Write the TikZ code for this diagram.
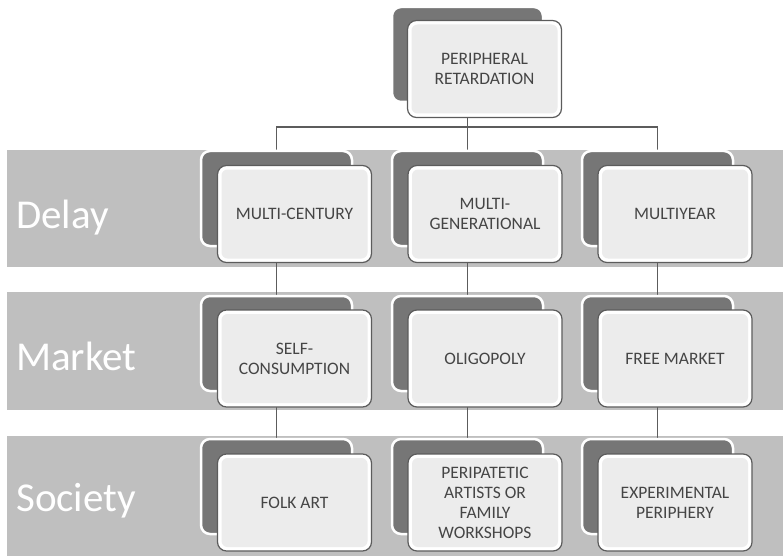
\documentclass[tikz,border=0pt]{standalone}
\usepackage{fontspec}
\setmainfont{Carlito}
\pgfdeclarelayer{bands}
\pgfdeclarelayer{links}
\pgfsetlayers{bands,links,main}
\definecolor{bandgray}{HTML}{BFBFBF}
\definecolor{cardgray}{HTML}{767676}
\definecolor{cardfill}{HTML}{ECECEC}
\definecolor{edgegray}{HTML}{5C5C5C}
\definecolor{textgray}{HTML}{454545}

\begin{document}
\begin{tikzpicture}[x = 1pt, y = -1pt]
    \tikzstyle{backcard} = [draw = white, line width = 2.5pt, fill = cardgray, rounded corners = 9pt, minimum width = 151pt, minimum height = 95pt, inner sep = 0pt];
    \tikzstyle{frontcard} = [draw = edgegray, line width = 1.2pt, fill = white, rounded corners = 9pt, minimum width = 154pt, minimum height = 97pt, inner sep = 0pt, align = center, text = textgray, font = \fontsize{17.5}{20}\selectfont, path picture = {\fill[cardfill, rounded corners = 6pt] ([shift = {(4pt,4pt)}]path picture bounding box.south west) rectangle ([shift = {(-4pt,-4pt)}]path picture bounding box.north east);}];
    \tikzstyle{rowlabel} = [anchor = base west, inner sep = 0pt, text = white, font = \fontsize{41}{48}\selectfont];
    \tikzstyle{link} = [draw = edgegray, line width = 1.3pt];
    \useasboundingbox (0,0) rectangle (783,556);
    % bands
    \begin{pgfonlayer}{bands}
        \fill[bandgray] (7,150) rectangle (783,267);
        \fill[bandgray] (7,292) rectangle (783,410);
        \fill[bandgray] (7,436) rectangle (783,556);
    \end{pgfonlayer}
    \node[rowlabel] (delay) at (16,228) {Delay};
    \node[rowlabel] (market) at (16,370) {Market};
    \node[rowlabel] (society) at (16,511) {Society};
    % top
    \node[backcard] (topbk) at (467.5,54.5) {};
    \node[frontcard] (top) at (484.5,69) {PERIPHERAL\\RETARDATION};
    % delay
    \node[backcard] (d1bk) at (276.5,198.5) {};
    \node[frontcard] (d1) at (294.5,214) {MULTI-CENTURY};
    \node[backcard] (d2bk) at (467.5,198.5) {};
    \node[frontcard] (d2) at (485,214) {MULTI-\\GENERATIONAL};
    \node[backcard] (d3bk) at (657.5,198.5) {};
    \node[frontcard] (d3) at (675,214) {MULTIYEAR};
    % market
    \node[backcard] (m1bk) at (276.5,343.5) {};
    \node[frontcard] (m1) at (294.5,358.5) {SELF-\\CONSUMPTION};
    \node[backcard] (m2bk) at (467.5,343.5) {};
    \node[frontcard] (m2) at (485,358.5) {OLIGOPOLY};
    \node[backcard] (m3bk) at (657.5,343.5) {};
    \node[frontcard] (m3) at (675,358.5) {FREE MARKET};
    % society
    \node[backcard] (s1bk) at (276.5,486.5) {};
    \node[frontcard] (s1) at (294.5,502.5) {FOLK ART};
    \node[backcard] (s2bk) at (467.5,486.5) {};
    \node[frontcard] (s2) at (485,502.5) {PERIPATETIC\\ARTISTS OR\\FAMILY\\WORKSHOPS};
    \node[backcard] (s3bk) at (657.5,486.5) {};
    \node[frontcard] (s3) at (675,502.5) {EXPERIMENTAL\\PERIPHERY};
    % links
    \coordinate (bus) at (467.5,127);
    \begin{pgfonlayer}{links}
        \draw[link] (topbk) -- (topbk |- bus);
        \draw[link] (d1bk) |- (bus) -| (d3bk);
        \draw[link] (d2bk) -- (d2bk |- bus);
        \draw[link] (d1bk) -- (m1bk);
        \draw[link] (d2bk) -- (m2bk);
        \draw[link] (d3bk) -- (m3bk);
        \draw[link] (m1bk) -- (s1bk);
        \draw[link] (m2bk) -- (s2bk);
        \draw[link] (m3bk) -- (s3bk);
    \end{pgfonlayer}
\end{tikzpicture}
\end{document}
